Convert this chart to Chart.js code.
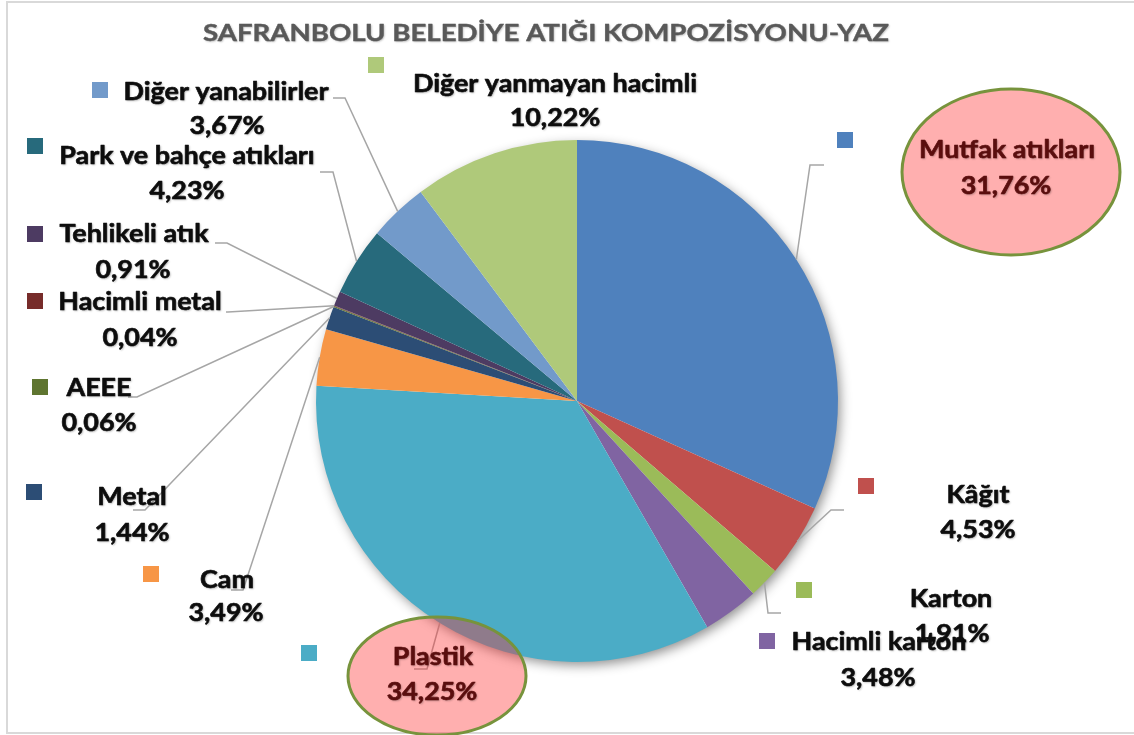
<!DOCTYPE html>
<html><head><meta charset="utf-8">
<script src="https://cdn.jsdelivr.net/npm/chart.js@4.4.1/dist/chart.umd.min.js"></script>
<style>html,body{margin:0;padding:0;background:#fff;overflow:hidden}canvas{display:block}</style>
</head><body>
<canvas id="c" width="1134" height="735"></canvas>
<script>
// ---- data ----
const chartTitle = 'SAFRANBOLU BELEDİYE ATIĞI KOMPOZİSYONU-YAZ';
const categories = ['Mutfak atıkları', 'Kâğıt', 'Karton', 'Hacimli karton', 'Plastik', 'Cam', 'Metal', 'AEEE', 'Hacimli metal', 'Tehlikeli atık', 'Park ve bahçe atıkları', 'Diğer yanabilirler', 'Diğer yanmayan hacimli'];
const values = [31.76, 4.53, 1.91, 3.48, 34.25, 3.49, 1.44, 0.06, 0.04, 0.91, 4.23, 3.67, 10.22];
const sliceColors = ['#4F81BD', '#C0504D', '#9BBB59', '#8064A2', '#4BACC6', '#F79646', '#2C4D75', '#5F7530', '#772C2A', '#4D3B62', '#276A7C', '#729ACA', '#AFC97A'];

// ---- label layout (style only) ----
const labelLayout = [
  {sq:[837,132], name:[1007,150], pct:[1006,186], lead:[[810,165],[824,165]], ellipse:[1011,172,109,83]},
  {sq:[858,478], name:[978,495], pct:[978,530], lead:[[831,510],[844,510]]},
  {sq:[796,582], name:[951,599], pct:[952,634], lead:[[768,613],[781,613]]},
  {sq:[759,633], name:[879,642], pct:[878,678], lead:null},
  {sq:[301,645], name:[433,657], pct:[432,692], lead:[[427,669],[414,669]], ellipse:[437,676,89,59]},
  {sq:[143,566], name:[227,580], pct:[226,613], lead:[[243,590],[231,590]]},
  {sq:[26,484], name:[132,497], pct:[132,533], lead:[[145,510],[133,510]]},
  {sq:[32,379], name:[99,388], pct:[99,423], lead:[[137,397],[128,397]]},
  {sq:[27,293], name:[140,302], pct:[140,338], lead:[[228,312],[226,312]]},
  {sq:[27,226], name:[134,234], pct:[133,270], lead:[[227,243],[215,243]]},
  {sq:[27,138], name:[187,156], pct:[187,191], lead:[[333,172],[320,172]]},
  {sq:[92,82], name:[226,92], pct:[227,126], lead:[[345,98],[333,98]]},
  {sq:[368,57], name:[555,84], pct:[555,118], lead:null}
];
const LABEL_FONT = 'bold 24px Lato, "Open Sans", sans-serif';
const LABEL_STRETCH = 1.12;
const TITLE_FONT = 'bold 23px Lato, "Open Sans", sans-serif';
const TITLE_STRETCH = 1.2;

function fmtPct(v){ return v.toFixed(2).replace('.', ',') + '%'; }

function stretchedText(ctx, text, x, y, sx, strokeW){
  ctx.save();
  ctx.translate(x, y);
  ctx.scale(sx, 1);
  ctx.fillText(text, 0, 0);
  if (strokeW) {
    ctx.shadowColor = 'transparent';
    ctx.lineWidth = strokeW;
    ctx.strokeStyle = ctx.fillStyle;
    ctx.lineJoin = 'round';
    ctx.strokeText(text, 0, 0);
  }
  ctx.restore();
}

const decorPlugin = {
  id: 'decor',
  beforeDraw(chart){
    const ctx = chart.ctx;
    ctx.save();
    ctx.fillStyle = '#fff';
    ctx.fillRect(0,0,chart.width,chart.height);
    ctx.strokeStyle = '#D9D9D9';
    ctx.lineWidth = 2;
    ctx.strokeRect(7, 2, chart.width + 20, 731);
    ctx.fillStyle = '#595959';
    ctx.font = TITLE_FONT;
    ctx.textAlign = 'center';
    ctx.textBaseline = 'middle';
    ctx.shadowColor = 'rgba(0,0,0,0.25)';
    ctx.shadowBlur = 2; ctx.shadowOffsetX = 1; ctx.shadowOffsetY = 1;
    stretchedText(ctx, chartTitle, 546, 34, TITLE_STRETCH, 0.4);
    ctx.restore();
  },
  beforeDatasetsDraw(chart){
    const arc = chart.getDatasetMeta(0).data[0];
    if (!arc) return;
    const ctx = chart.ctx;
    ctx.save();
    ctx.shadowColor = 'rgba(0,0,0,0.45)';
    ctx.shadowBlur = 12; ctx.shadowOffsetX = 3; ctx.shadowOffsetY = 4;
    ctx.fillStyle = '#ffffff';
    ctx.beginPath();
    ctx.arc(arc.x, arc.y, arc.outerRadius - 1, 0, Math.PI*2);
    ctx.fill();
    ctx.restore();
  },
  afterDatasetsDraw(chart){
    const ctx = chart.ctx;
    const arcs = chart.getDatasetMeta(0).data;
    ctx.save();
    // leader lines
    ctx.strokeStyle = '#A6A6A6';
    ctx.lineWidth = 1.5;
    arcs.forEach((a, i) => {
      const L = labelLayout[i];
      if (!L || !L.lead) return;
      const mid = (a.startAngle + a.endAngle) / 2;
      const px = a.x + Math.cos(mid) * a.outerRadius;
      const py = a.y + Math.sin(mid) * a.outerRadius;
      ctx.beginPath();
      ctx.moveTo(px, py);
      L.lead.forEach(p => ctx.lineTo(p[0], p[1]));
      ctx.stroke();
    });
    // ellipses
    labelLayout.forEach(L => {
      if (!L.ellipse) return;
      const [cx, cy, rx, ry] = L.ellipse;
      ctx.beginPath();
      ctx.ellipse(cx, cy, rx, ry, 0, 0, Math.PI*2);
      ctx.fillStyle = 'rgba(255,45,45,0.38)';
      ctx.fill();
      ctx.strokeStyle = '#77933C';
      ctx.lineWidth = 3;
      ctx.stroke();
    });
    // legend squares
    labelLayout.forEach((L, i) => {
      ctx.fillStyle = sliceColors[i];
      ctx.fillRect(L.sq[0], L.sq[1], 16, 16);
    });
    // text
    ctx.font = LABEL_FONT;
    ctx.textAlign = 'center';
    ctx.textBaseline = 'middle';
    ctx.shadowColor = 'rgba(0,0,0,0.3)';
    ctx.shadowBlur = 2; ctx.shadowOffsetX = 1; ctx.shadowOffsetY = 1;
    labelLayout.forEach((L, i) => {
      ctx.fillStyle = L.ellipse ? '#5A0E0E' : '#0D0D0D';
      stretchedText(ctx, categories[i], L.name[0], L.name[1], LABEL_STRETCH, 0.6);
      stretchedText(ctx, fmtPct(values[i]), L.pct[0], L.pct[1], LABEL_STRETCH, 0.6);
    });
    ctx.restore();
  }
};

function build(){
  new Chart(document.getElementById('c'), {
    type: 'pie',
    data: {
      labels: categories,
      datasets: [{
        data: values,
        backgroundColor: sliceColors,
        borderWidth: 0,
        hoverOffset: 0,
        offset: 0
      }]
    },
    options: {
      responsive: false,
      devicePixelRatio: 1,
      animation: false,
      layout: { padding: { top: 140, bottom: 73, left: 316, right: 296 } },
      plugins: {
        legend: { display: false },
        tooltip: { enabled: false },
        title: { display: false }
      },
      events: []
    },
    plugins: [decorPlugin]
  });
}
if (document.fonts && document.fonts.load) {
  Promise.all([document.fonts.load(LABEL_FONT, 'Ağış'), document.fonts.load(TITLE_FONT, 'İĞ')]).then(build, build);
} else { build(); }
</script>
</body></html>
